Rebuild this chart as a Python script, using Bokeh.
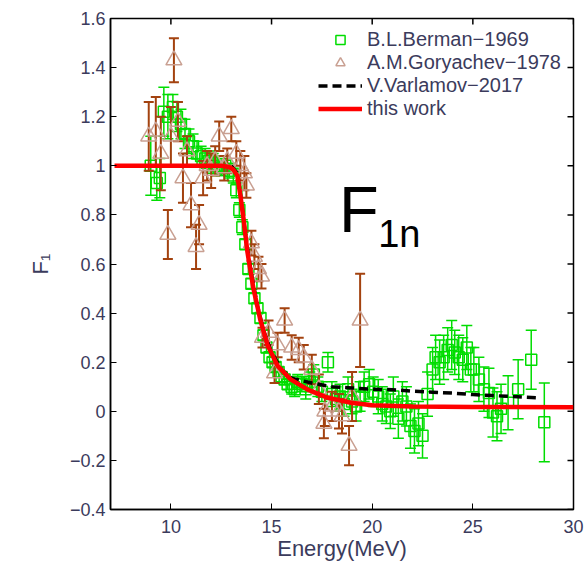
import numpy as np
from bokeh.plotting import figure
from bokeh.models import Range1d, Legend, LegendItem, FixedTicker, Label, ColumnDataSource
from bokeh.core.properties import value
from bokeh.embed import file_html
from bokeh.resources import INLINE

# ---------------- data ----------------
berman_E = [9.0, 9.3, 9.45, 9.65, 9.85, 10.1, 10.3, 10.5, 10.7, 10.9, 11.1, 11.3, 11.5, 11.7, 11.9,
            12.1, 12.3, 12.5, 12.7, 12.9, 13.1, 13.25, 13.4, 13.55, 13.7, 13.85, 14.0, 14.15, 14.3,
            14.45, 14.6, 14.75, 14.9, 15.05, 15.2, 15.35, 15.5, 15.65, 15.8, 16.0, 16.15, 16.3, 16.5,
            16.7, 16.9, 17.1, 17.3, 17.5, 17.8, 18.0, 18.2, 18.4, 18.6, 18.8, 19.0, 19.2, 19.4, 19.6,
            19.85, 20.05, 20.3, 20.5, 20.7, 20.9, 21.05, 21.3, 21.5, 21.7, 21.9, 22.1, 22.3, 22.5,
            22.75, 23.0, 23.15, 23.35, 23.55, 23.75, 23.95, 24.1, 24.3, 24.5, 24.7, 24.9, 25.05, 25.3,
            25.55, 25.8, 26.0, 26.2, 26.4, 26.75, 27.25, 27.9, 28.55]
berman_F = [1.00, 0.93, 0.95, 1.22, 1.20, 1.24, 1.20, 1.17, 1.13, 1.10, 1.08, 1.05, 1.04, 1.03, 1.02,
            1.01, 1.00, 0.99, 1.00, 0.98, 0.96, 0.90, 0.82, 0.75, 0.68, 0.58, 0.52, 0.46, 0.42,
            0.38, 0.31, 0.26, 0.22, 0.20, 0.18, 0.16, 0.14, 0.13, 0.11, 0.10, 0.09, 0.12, 0.11,
            0.09, 0.12, 0.15, 0.10, 0.08, 0.20, 0.07, 0.05, 0.06, 0.03, 0.09, 0.04, 0.02, 0.06, 0.10,
            0.11, 0.08, 0.06, 0.03, 0.02, 0.00, 0.06, -0.03, 0.04, 0.02, -0.06, -0.08, -0.05, -0.10,
            0.07, 0.17, 0.22, 0.20, 0.22, 0.25, 0.27, 0.24, 0.22, 0.21, 0.26, 0.17, 0.17, 0.13,
            0.09, 0.075, -0.005, -0.02, 0.01, 0.035, 0.09, 0.21, -0.045]
berman_dF = [0.12, 0.07, 0.08, 0.10, 0.09, 0.05, 0.06, 0.06, 0.06, 0.05, 0.05, 0.05, 0.04, 0.04, 0.04,
             0.04, 0.04, 0.03, 0.03, 0.03, 0.03, 0.03, 0.03, 0.03, 0.02, 0.02, 0.02, 0.02, 0.02,
             0.02, 0.02, 0.02, 0.02, 0.02, 0.02, 0.02, 0.02, 0.02, 0.02, 0.03, 0.03, 0.03, 0.03,
             0.04, 0.04, 0.04, 0.04, 0.04, 0.04, 0.05, 0.05, 0.05, 0.05, 0.05, 0.05, 0.06, 0.06, 0.06,
             0.06, 0.06, 0.07, 0.07, 0.07, 0.07, 0.08, 0.08, 0.08, 0.08, 0.09, 0.09, 0.09, 0.09,
             0.09, 0.09, 0.09, 0.09, 0.09, 0.09, 0.10, 0.09, 0.09, 0.09, 0.09, 0.09, 0.09, 0.09,
             0.09, 0.10, 0.10, 0.10, 0.10, 0.11, 0.12, 0.12, 0.16]

gory_E = [8.9, 9.25, 9.5, 9.85, 10.0, 10.15, 10.35, 10.6, 10.8, 11.0, 11.25, 11.4, 11.6, 11.8, 12.0,
          12.2, 12.4, 12.65, 12.8, 13.0, 13.25, 13.45, 13.65, 13.75, 14.0, 14.15, 14.35, 14.5, 14.55,
          14.85, 15.15, 15.3, 15.65, 16.0, 16.35, 16.6, 17.0, 17.35, 17.6, 17.65, 18.0, 18.35, 18.5,
          18.85, 19.0, 19.4]
gory_F = [1.12, 1.14, 1.05, 0.72, 1.12, 1.43, 1.18, 0.95, 1.06, 0.84, 0.67, 0.76, 0.95, 1.00, 0.98,
          1.02, 1.12, 0.99, 1.02, 1.15, 1.05, 1.00, 0.97, 0.92, 0.685, 0.63, 0.58, 0.55, 0.30,
          0.32, 0.155, 0.27, 0.37, 0.26, 0.25, 0.22, 0.17, 0.09, -0.05, 0.00, 0.02, 0.00, -0.02,
          -0.14, 0.06, 0.37]
gory_dF = [0.14, 0.14, 0.15, 0.10, 0.12, 0.09, 0.08, 0.10, 0.06, 0.09, 0.09, 0.08, 0.07, 0.06, 0.07,
           0.06, 0.06, 0.05, 0.05, 0.05, 0.05, 0.06, 0.07, 0.05, 0.05, 0.05, 0.05, 0.05, 0.04,
           0.05, 0.04, 0.05, 0.05, 0.05, 0.05, 0.05, 0.06, 0.06, 0.06, 0.06, 0.06, 0.07, 0.07,
           0.08, 0.10, 0.19]

varl_E = [13.0, 13.3, 13.5, 13.7, 14.0, 14.3, 14.6, 15.0, 15.5, 16.0, 16.5, 17.0, 18.0, 19.0, 20.0,
          21.0, 22.0, 23.0, 24.0, 25.0, 26.0, 27.0, 28.3]
varl_F = [1.0, 0.97, 0.86, 0.72, 0.56, 0.43, 0.33, 0.24, 0.17, 0.135, 0.125, 0.115, 0.10, 0.095, 0.09,
          0.088, 0.082, 0.078, 0.074, 0.068, 0.064, 0.06, 0.055]

this_E = [7.2, 9.0, 11.0, 12.5, 12.9, 13.1, 13.3, 13.45, 13.6, 13.8, 14.1, 14.45, 14.8, 15.3, 15.95,
          16.8, 17.8, 18.95, 20.0, 22.0, 25.0, 30.0]
this_F = [1.0, 1.0, 1.0, 1.0, 0.995, 0.985, 0.96, 0.88, 0.79, 0.65, 0.50, 0.37, 0.27, 0.185, 0.13,
          0.088, 0.055, 0.035, 0.025, 0.02, 0.018, 0.017]

x_range = (7, 30)
y_range = (-0.4, 1.6)
x_ticks = [10, 15, 20, 25, 30]
y_ticks = [-0.4, -0.2, 0, 0.2, 0.4, 0.6, 0.8, 1, 1.2, 1.4, 1.6]
y_tick_labels = ["\u22120.4", "\u22120.2", "0", "0.2", "0.4", "0.6", "0.8", "1", "1.2", "1.4", "1.6"]
legend_labels = ["B.L.Berman\u22121969", "A.M.Goryachev\u22121978", "V.Varlamov\u22122017", "this work"]

# ---------------- styles ----------------
FONT = "Liberation Sans"
TXT = "#3b3b5c"
GREEN = "#00dd00"
BROWN = "#a3420f"
TRI = "#c9a092"

p = figure(width=586, height=563, output_backend="svg", toolbar_location=None,
           x_range=Range1d(*x_range), y_range=Range1d(*y_range),
           min_border_left=110, min_border_right=13, min_border_top=18, min_border_bottom=53)
p.grid.visible = False
p.outline_line_color = "black"
p.outline_line_width = 1.5
p.background_fill_color = "white"
p.border_fill_color = "white"

for ax in (p.xaxis[0], p.yaxis[0]):
    ax.axis_line_width = 1.5
    ax.major_tick_in = 6
    ax.major_tick_out = 0
    ax.minor_tick_line_color = None
    ax.major_label_text_font = FONT
    ax.major_label_text_color = TXT
    ax.major_label_text_font_size = "18px"
    ax.axis_label_text_font = FONT
    ax.axis_label_text_color = TXT
    ax.axis_label_text_font_style = "normal"

p.xaxis.ticker = FixedTicker(ticks=x_ticks)
p.xaxis.major_label_overrides = {t: str(t) for t in x_ticks}
p.xaxis.axis_label = "Energy(MeV)"
p.xaxis.axis_label_text_font_size = "22px"
p.xaxis.major_label_standoff = 10
p.xaxis.axis_label_standoff = 0

p.yaxis.ticker = FixedTicker(ticks=y_ticks)
p.yaxis.major_label_overrides = {t: l for t, l in zip(y_ticks, y_tick_labels)}
p.yaxis.axis_label = "F\u2081"
p.yaxis.axis_label_text_font_size = "22px"
p.yaxis.major_label_standoff = 5
p.yaxis.axis_label_standoff = 14

# box ticks on the top and right edges (inward, clipped to the frame)
p.scatter(x_ticks, [y_range[1]] * len(x_ticks), marker="dash", angle=np.pi / 2, size=12,
          line_color="black", line_width=1.5)
p.scatter([x_range[1]] * len(y_ticks), y_ticks, marker="dash", size=12,
          line_color="black", line_width=1.5)

# ---------------- glyphs ----------------
bE = np.array(berman_E); bF = np.array(berman_F); bd = np.array(berman_dF)
gE = np.array(gory_E); gF = np.array(gory_F); gd = np.array(gory_dF)

bsrc = ColumnDataSource(dict(x=bE, y=bF, lo=bF - bd, hi=bF + bd))
gsrc = ColumnDataSource(dict(x=gE, y=gF, lo=gF - gd, hi=gF + gd))

p.segment("x", "lo", "x", "hi", source=bsrc, line_color=GREEN, line_width=1.5)
p.scatter("x", "lo", source=bsrc, marker="dash", size=11, line_color=GREEN, line_width=1.5)
p.scatter("x", "hi", source=bsrc, marker="dash", size=11, line_color=GREEN, line_width=1.5)
r_b = p.scatter("x", "y", source=bsrc, marker="square", size=11, fill_color=None,
                line_color=GREEN, line_width=1.5)

p.segment("x", "lo", "x", "hi", source=gsrc, line_color=BROWN, line_width=2)
p.scatter("x", "lo", source=gsrc, marker="dash", size=10, line_color=BROWN, line_width=2)
p.scatter("x", "hi", source=gsrc, marker="dash", size=10, line_color=BROWN, line_width=2)
r_g = p.scatter("x", "y", source=gsrc, marker="triangle", size=16, fill_color=None,
                line_color=TRI, line_width=1.5)

r_v = p.line(varl_E, varl_F, line_color="black", line_width=3.5, line_dash="9 5")
r_t = p.line(this_E, this_F, line_color="#ff0000", line_width=4.5)

legend = Legend(items=[LegendItem(label=legend_labels[0], renderers=[r_b]),
                       LegendItem(label=legend_labels[1], renderers=[r_g]),
                       LegendItem(label=legend_labels[2], renderers=[r_v]),
                       LegendItem(label=legend_labels[3], renderers=[r_t])],
                location=(208, 389), border_line_alpha=0, background_fill_alpha=0,
                label_text_font=FONT, label_text_font_size="20px", label_text_color=TXT,
                glyph_width=44, glyph_height=23, label_height=23, spacing=0, padding=0,
                margin=0, label_standoff=5)
p.add_layout(legend)

p.add_layout(Label(x=18.35, y=0.82, text="F", text_font=FONT, text_font_size="65px",
                   text_color="black", text_baseline="alphabetic"))
p.add_layout(Label(x=20.3, y=0.722, text="1n", text_font=FONT, text_font_size="38px",
                   text_color="black", text_baseline="alphabetic"))

open("out.html", "w").write(file_html(p, INLINE))
